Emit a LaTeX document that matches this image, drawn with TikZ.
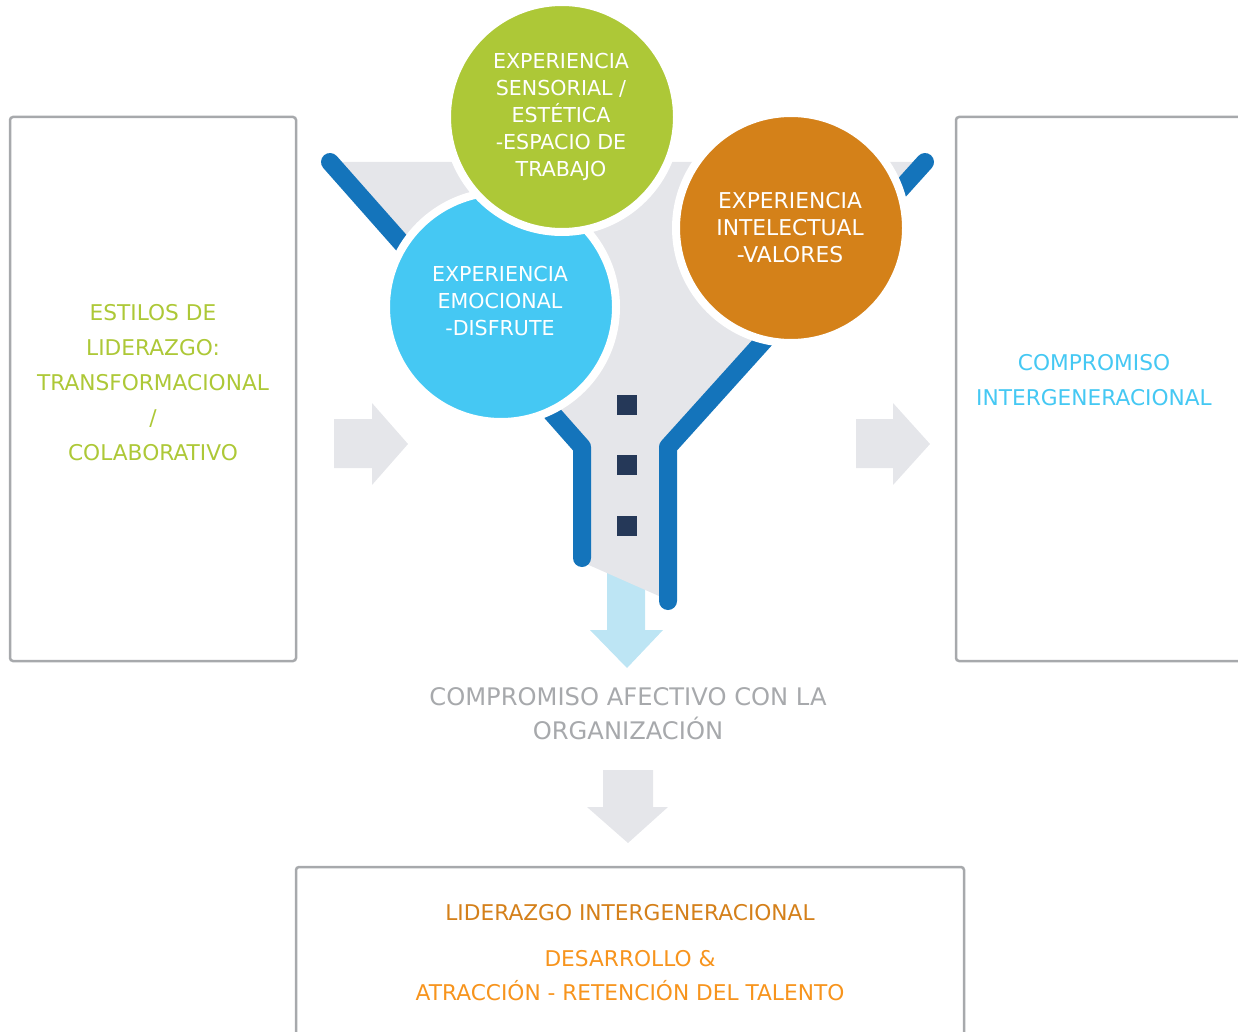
\documentclass[tikz,border=0pt]{standalone}
\usepackage{fontspec}
\setmainfont{DejaVu Sans}
\definecolor{cgreen}{HTML}{ADC837}
\definecolor{cblue}{HTML}{45C8F3}
\definecolor{corange}{HTML}{D48119}
\definecolor{lineblue}{HTML}{1474BB}
\definecolor{funnelgrey}{HTML}{E5E6EA}
\definecolor{boxgrey}{HTML}{A7A9AC}
\definecolor{navy}{HTML}{253858}
\definecolor{lightblue}{HTML}{BDE5F4}
\definecolor{orangedark}{HTML}{D4801A}
\definecolor{orangelight}{HTML}{F7941D}
\definecolor{textgrey}{HTML}{A7A9AC}
\begin{document}
\begin{tikzpicture}[x=1pt,y=-1pt,
  framebox/.style={draw=boxgrey, line width=2.5pt, rounded corners=3pt, inner sep=0pt},
  bubble/.style={circle, draw=white, line width=8pt, minimum size=230pt, inner sep=0pt},
  bubbletext/.style={text=white, align=center, inner sep=0pt, font=\fontsize{20.6}{27}\selectfont},
  boxtext/.style={align=center, inner sep=0pt, font=\fontsize{21.7}{35}\selectfont},
  funnelline/.style={lineblue, line width=18pt, line cap=round, line join=round},
  blockarrow/.style={fill=funnelgrey, draw=none},
  dot/.style={fill=navy, minimum size=20pt, inner sep=0pt},
]
\useasboundingbox (0,0) rectangle (1238,1032);
\clip (0,0) rectangle (1238,1032);

% frames
\node[framebox, minimum width=286pt, minimum height=544pt] (leftbox) at (153,389) {};
\node[framebox, minimum width=300pt, minimum height=544pt] (rightbox) at (1106,389) {};
\node[framebox, minimum width=668pt, minimum height=190pt] (bottombox) at (630,962) {};

% box texts
\node[boxtext, text=cgreen] (lefttext) at (153,383)
  {ESTILOS DE\\LIDERAZGO:\\TRANSFORMACIONAL\\/\\COLABORATIVO};
\node[boxtext, text=cblue] (righttext) at (1094,380)
  {COMPROMISO\\INTERGENERACIONAL};

% side arrows
\coordinate (la) at (334,444);
\coordinate (ra) at (856,444);
\path[blockarrow] (la) ++(0,-25) -- ++(38,0) -- ++(0,-16) -- (408,444) -- (372,485) -- (372,468) -- (334,468) -- cycle;
\path[blockarrow] (ra) ++(0,-25) -- ++(37,0) -- ++(0,-16) -- (930,444) -- (893,485) -- (893,468) -- (856,468) -- cycle;

% light blue down arrow
\path[fill=lightblue] (607,560) -- (645,560) -- (645,630) -- (663,630) -- (627,668) -- (590,630) -- (607,630) -- cycle;

% funnel
\coordinate (fl1) at (330,162);
\coordinate (fl2) at (582,447);
\coordinate (fl3) at (582,558);
\coordinate (fr1) at (925,162);
\coordinate (fr2) at (668,447);
\coordinate (fr3) at (668,601);
\path[fill=funnelgrey] (fl1) -- (fr1) -- (fr2) -- (668,600) -- (582,562) -- (fl2) -- cycle;
\draw[funnelline] (fl1) -- (fl2) -- (fl3);
\draw[funnelline] (fr1) -- (fr2) -- (fr3);

\node[dot] (d1) at (627,405) {};
\node[dot] (d2) at (627,465) {};
\node[dot] (d3) at (627,526) {};

% bubbles
\node[bubble, fill=cblue] (emo) at (501,307) {};
\node[bubbletext] (emotext) at (500,301) {EXPERIENCIA\\EMOCIONAL\\-DISFRUTE};
\node[bubble, fill=cgreen] (sens) at (562,117) {};
\node[bubbletext] (senstext) at (561,117) {EXPERIENCIA\\SENSORIAL /\\EST\'ETICA\\-ESPACIO DE\\TRABAJO};
\node[bubble, fill=corange] (intel) at (791,228) {};
\node[bubbletext, font=\fontsize{21.8}{27}\selectfont] (inteltext) at (790,228) {EXPERIENCIA\\INTELECTUAL\\-VALORES};

% middle text
\node[align=center, inner sep=0pt, text=textgrey, font=\fontsize{24.2}{34}\selectfont] (afectivo) at (628,714)
  {COMPROMISO AFECTIVO CON LA\\ORGANIZACI\'ON};

% grey down arrow
\path[blockarrow] (603,770) -- (653,770) -- (653,807) -- (668,807) -- (628,843) -- (587,807) -- (603,807) -- cycle;

% bottom texts
\node[boxtext, text=orangedark] (lider) at (630,913) {LIDERAZGO INTERGENERACIONAL};
\node[align=center, inner sep=0pt, text=orangelight, font=\fontsize{21.7}{34}\selectfont] (desarrollo) at (630,976)
  {DESARROLLO \&\\ATRACCI\'ON - RETENCI\'ON DEL TALENTO};
\end{tikzpicture}
\end{document}
